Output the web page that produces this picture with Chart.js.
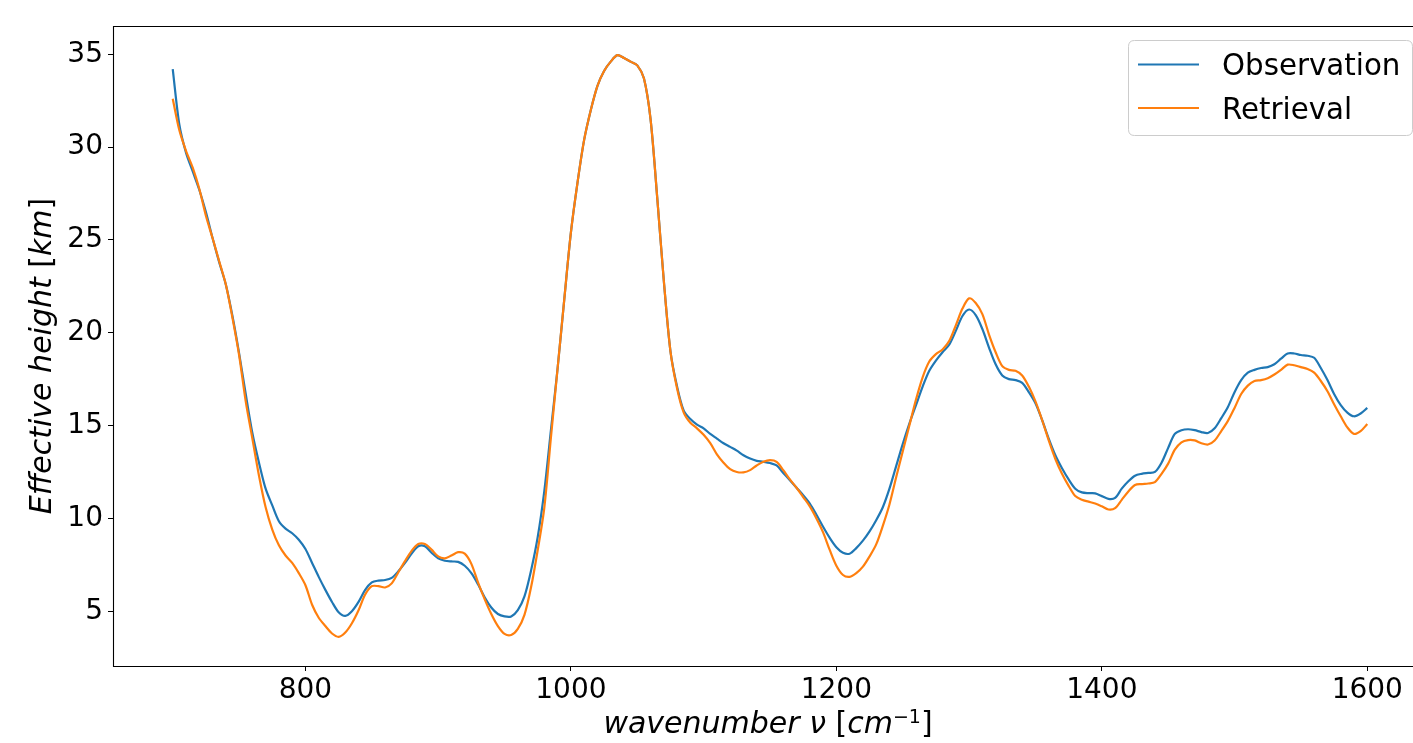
<!DOCTYPE html>
<html>
<head>
<meta charset="utf-8">
<script src="https://cdn.jsdelivr.net/npm/chart.js@4"></script>
<style>
  html, body { margin: 0; padding: 0; background: #fff; overflow: hidden; }
  #wrap { width: 1413px; height: 743px; overflow: hidden; position: relative; }
  canvas { display: block; }
</style>
</head>
<body>
<div id="wrap"><canvas id="c" width="1450" height="743"></canvas></div>
<script>
const wavenumber = [
  700,705,710,715,720,725,730,735,740,745,
  750,755,760,765,770,775,780,785,790,795,
  800,805,810,815,820,825,830,835,840,845,
  850,855,860,865,870,875,880,885,890,895,
  900,905,910,915,920,925,930,935,940,945,
  950,955,960,965,970,975,980,985,990,995,
  1000,1005,1010,1015,1020,1025,1030,1035,1040,1045,
  1050,1055,1060,1065,1070,1075,1080,1085,1090,1095,
  1100,1105,1110,1115,1120,1125,1130,1135,1140,1145,
  1150,1155,1160,1165,1170,1175,1180,1185,1190,1195,
  1200,1205,1210,1215,1220,1225,1230,1235,1240,1245,
  1250,1255,1260,1265,1270,1275,1280,1285,1290,1295,
  1300,1305,1310,1315,1320,1325,1330,1335,1340,1345,
  1350,1355,1360,1365,1370,1375,1380,1385,1390,1395,
  1400,1405,1410,1415,1420,1425,1430,1435,1440,1445,
  1450,1455,1460,1465,1470,1475,1480,1485,1490,1495,
  1500,1505,1510,1515,1520,1525,1530,1535,1540,1545,
  1550,1555,1560,1565,1570,1575,1580,1585,1590,1595,
  1600
];
const observation = [
  34.2, 31.2, 29.7, 28.7, 27.7, 26.5, 25.1, 23.8, 22.6, 20.9,
  18.9, 16.7, 14.6, 13.0, 11.6, 10.7, 9.85, 9.45, 9.2, 8.85,
  8.35, 7.6, 6.85, 6.15, 5.5, 4.95, 4.75, 5.0, 5.5, 6.15,
  6.55, 6.65, 6.68, 6.8, 7.15, 7.6, 8.1, 8.5, 8.5, 8.15,
  7.85, 7.72, 7.68, 7.66, 7.45, 7.05, 6.45, 5.75, 5.2, 4.85,
  4.72, 4.72, 5.06, 5.8, 7.2, 9.0, 11.5, 14.8, 18.1, 21.8,
  25.4, 28.1, 30.4, 32.0, 33.3, 34.1, 34.6, 34.95, 34.8, 34.6,
  34.4, 33.7, 31.5, 27.3, 22.8, 19.0, 17.1, 15.8, 15.35, 15.05,
  14.85, 14.55, 14.3, 14.05, 13.85, 13.65, 13.4, 13.22, 13.1, 13.05,
  12.98, 12.85, 12.45, 12.05, 11.65, 11.25, 10.8, 10.2, 9.55, 8.95,
  8.45, 8.15, 8.1, 8.4, 8.8, 9.3, 9.9, 10.6, 11.6, 12.8,
  14.0, 15.1, 16.1, 17.1, 17.95, 18.5, 18.95, 19.35, 20.1, 20.9,
  21.25, 20.95, 20.2, 19.2, 18.3, 17.7, 17.5, 17.45, 17.3, 16.8,
  16.2, 15.3, 14.3, 13.4, 12.7, 12.1, 11.6, 11.4, 11.36, 11.35,
  11.2, 11.05, 11.1, 11.6, 12.0, 12.3, 12.4, 12.45, 12.5, 13.0,
  13.8, 14.55, 14.75, 14.8, 14.75, 14.65, 14.6, 14.85, 15.4, 16.0,
  16.8, 17.45, 17.85, 18.0, 18.1, 18.15, 18.3, 18.6, 18.88, 18.88,
  18.8, 18.76, 18.65, 18.1, 17.45, 16.7, 16.1, 15.7, 15.5, 15.65,
  15.95
];
const retrieval = [
  32.6, 30.9, 29.8, 28.9, 27.75, 26.3, 25.1, 23.85, 22.6, 20.8,
  18.8, 16.3, 14.3, 12.3, 10.6, 9.4, 8.55, 8.0, 7.6, 7.05,
  6.4, 5.35, 4.65, 4.2, 3.8, 3.62, 3.85, 4.35, 5.05, 5.9,
  6.35, 6.35, 6.28, 6.5, 7.1, 7.7, 8.25, 8.62, 8.62, 8.32,
  7.95, 7.85, 8.0, 8.18, 8.1, 7.55, 6.55, 5.65, 4.85, 4.2,
  3.78, 3.72, 4.05, 4.8, 6.3, 8.3, 10.6, 14.4, 18.1, 21.8,
  25.4, 28.1, 30.4, 32.0, 33.3, 34.1, 34.6, 34.95, 34.8, 34.6,
  34.4, 33.7, 31.5, 27.3, 22.8, 19.0, 17.0, 15.7, 15.15, 14.85,
  14.5, 14.05, 13.45, 13.0, 12.65, 12.5, 12.48, 12.6, 12.85, 13.05,
  13.14, 13.05, 12.6, 12.1, 11.65, 11.15, 10.65, 10.0, 9.25, 8.3,
  7.45, 6.95, 6.85, 7.05, 7.4, 7.95, 8.6, 9.6, 10.75, 12.2,
  13.6, 15.0, 16.4, 17.6, 18.45, 18.85, 19.1, 19.55, 20.4, 21.3,
  21.85, 21.6, 21.0, 19.9, 18.95, 18.2, 18.0, 17.95, 17.7, 17.1,
  16.3, 15.3, 14.2, 13.2, 12.4, 11.75, 11.2, 11.0, 10.9, 10.8,
  10.65, 10.48, 10.55, 11.0, 11.45, 11.8, 11.85, 11.88, 11.95, 12.4,
  12.95, 13.7, 14.1, 14.22, 14.2, 14.05, 13.98, 14.2, 14.7, 15.25,
  15.95, 16.7, 17.15, 17.4, 17.45, 17.55, 17.75, 18.0, 18.28, 18.25,
  18.15, 18.05, 17.85, 17.4, 16.85, 16.15, 15.5, 14.9, 14.55, 14.7,
  15.08
];
const xTicks = [800, 1000, 1200, 1400, 1600];
const yTicks = [5, 10, 15, 20, 25, 30, 35];
const seriesLabels = ['Observation', 'Retrieval'];
// axis titles split into runs: [text, style]  (i = italic, r = upright, s = superscript)
const xTitleRuns = [['wavenumber ν ', 'i'], ['[', 'r'], ['cm', 'i'], ['−1', 's'], [']', 'r']];
const yTitleRuns = [['Effective height ', 'i'], ['[', 'r'], ['km', 'i'], [']', 'r']];

const FONT = 'DejaVu Sans';
Chart.defaults.font.family = FONT;
Chart.defaults.color = '#000';

const toPoints = (ys) => wavenumber.map((x, i) => ({ x: x, y: ys[i] }));

const TITLE_SIZE = 30, SUP_SIZE = 19;
function runFont(style) {
  if (style === 'i') return 'italic ' + TITLE_SIZE + 'px "' + FONT + '"';
  if (style === 's') return SUP_SIZE + 'px "' + FONT + '"';
  return TITLE_SIZE + 'px "' + FONT + '"';
}
function drawRuns(ctx, runs, cx, baseline) {
  let total = 0;
  const widths = runs.map(([t, s]) => { ctx.font = runFont(s); const w = ctx.measureText(t).width; total += w; return w; });
  let x = cx - total / 2;
  ctx.textAlign = 'left';
  ctx.textBaseline = 'alphabetic';
  runs.forEach(([t, s], i) => {
    ctx.font = runFont(s);
    ctx.fillText(t, x, s === 's' ? baseline - 9.5 : baseline);
    x += widths[i];
  });
}

const axisTitles = {
  id: 'axisTitles',
  afterDraw(chart) {
    const { ctx, chartArea: a } = chart;
    ctx.save();
    ctx.fillStyle = '#000';
    drawRuns(ctx, xTitleRuns, 768, 732.5);
    ctx.translate(51, (a.top + a.bottom) / 2 + 10);
    ctx.rotate(-Math.PI / 2);
    drawRuns(ctx, yTitleRuns, 0, 0);
    ctx.restore();
  }
};

const frame = {
  id: 'frame',
  afterDatasetsDraw(chart) {
    const { ctx, chartArea: a } = chart;
    const l = Math.round(a.left) + 0.5, t = Math.round(a.top) + 0.5, b = Math.round(a.bottom) + 0.5;
    ctx.save();
    ctx.strokeStyle = '#000';
    ctx.lineWidth = 1.1;
    ctx.beginPath();
    ctx.moveTo(a.right, t);
    ctx.lineTo(l, t);
    ctx.lineTo(l, b);
    ctx.lineTo(a.right, b);
    ctx.stroke();
    ctx.restore();
  }
};

const boxLegend = {
  id: 'boxLegend',
  afterDraw(chart) {
    const ctx = chart.ctx;
    const x0 = 1128.5, y0 = 40.5, w = 284, h = 95, r = 6;
    ctx.save();
    ctx.beginPath();
    ctx.moveTo(x0 + r, y0);
    ctx.lineTo(x0 + w - r, y0);
    ctx.quadraticCurveTo(x0 + w, y0, x0 + w, y0 + r);
    ctx.lineTo(x0 + w, y0 + h - r);
    ctx.quadraticCurveTo(x0 + w, y0 + h, x0 + w - r, y0 + h);
    ctx.lineTo(x0 + r, y0 + h);
    ctx.quadraticCurveTo(x0, y0 + h, x0, y0 + h - r);
    ctx.lineTo(x0, y0 + r);
    ctx.quadraticCurveTo(x0, y0, x0 + r, y0);
    ctx.closePath();
    ctx.fillStyle = 'rgba(255,255,255,0.8)';
    ctx.fill();
    ctx.strokeStyle = '#cccccc';
    ctx.lineWidth = 1;
    ctx.stroke();
    chart.data.datasets.forEach((ds, i) => {
      const y = 64.5 + i * 43.5;
      ctx.beginPath();
      ctx.moveTo(1138, y);
      ctx.lineTo(1199, y);
      ctx.strokeStyle = ds.borderColor;
      ctx.lineWidth = ds.borderWidth;
      ctx.stroke();
      ctx.fillStyle = '#000';
      ctx.font = '29.3px "' + FONT + '"';
      ctx.textBaseline = 'alphabetic';
      ctx.textAlign = 'left';
      ctx.fillText(ds.label, 1222, y + 10.5);
    });
    // keep the strip right of the legend clear down to the x axis
    ctx.fillStyle = '#ffffff';
    ctx.fillRect(1405, 140, 45, 520);
    ctx.restore();
  }
};

new Chart(document.getElementById('c'), {
  type: 'line',
  data: {
    datasets: [
      { label: seriesLabels[0], data: toPoints(observation), borderColor: '#1f77b4',
        borderWidth: 2.2, pointRadius: 0, tension: 0.3, fill: false, order: 1 },
      { label: seriesLabels[1], data: toPoints(retrieval), borderColor: '#ff7f0e',
        borderWidth: 2.2, pointRadius: 0, tension: 0.3, fill: false, order: 0 }
    ]
  },
  options: {
    responsive: false,
    animation: false,
    devicePixelRatio: 1,
    layout: { padding: { top: 26, right: 23, bottom: 0, left: 0 } },
    plugins: { legend: { display: false }, tooltip: { enabled: false } },
    scales: {
      x: {
        type: 'linear',
        min: 655, max: 1645,
        afterBuildTicks: (s) => { s.ticks = xTicks.map(v => ({ value: v })); },
        afterFit: (s) => { s.height = 77; },
        ticks: { font: { size: 28 }, color: '#000', padding: 3, maxRotation: 0, autoSkip: false,
                 callback: (v) => String(v) },
        grid: { display: true, drawOnChartArea: false, drawTicks: true, tickLength: 5, color: '#000', tickWidth: 1 },
        border: { display: false },
        title: { display: false }
      },
      y: {
        type: 'linear',
        min: 2.05, max: 36.52,
        afterBuildTicks: (s) => { s.ticks = yTicks.map(v => ({ value: v })); },
        afterFit: (s) => { s.width = 113; },
        ticks: { font: { size: 28 }, color: '#000', padding: 5, autoSkip: false,
                 callback: (v) => String(v) },
        grid: { display: true, drawOnChartArea: false, drawTicks: true, tickLength: 5, color: '#000', tickWidth: 1 },
        border: { display: false },
        title: { display: false }
      }
    }
  },
  plugins: [frame, boxLegend, axisTitles]
});
</script>
</body>
</html>
